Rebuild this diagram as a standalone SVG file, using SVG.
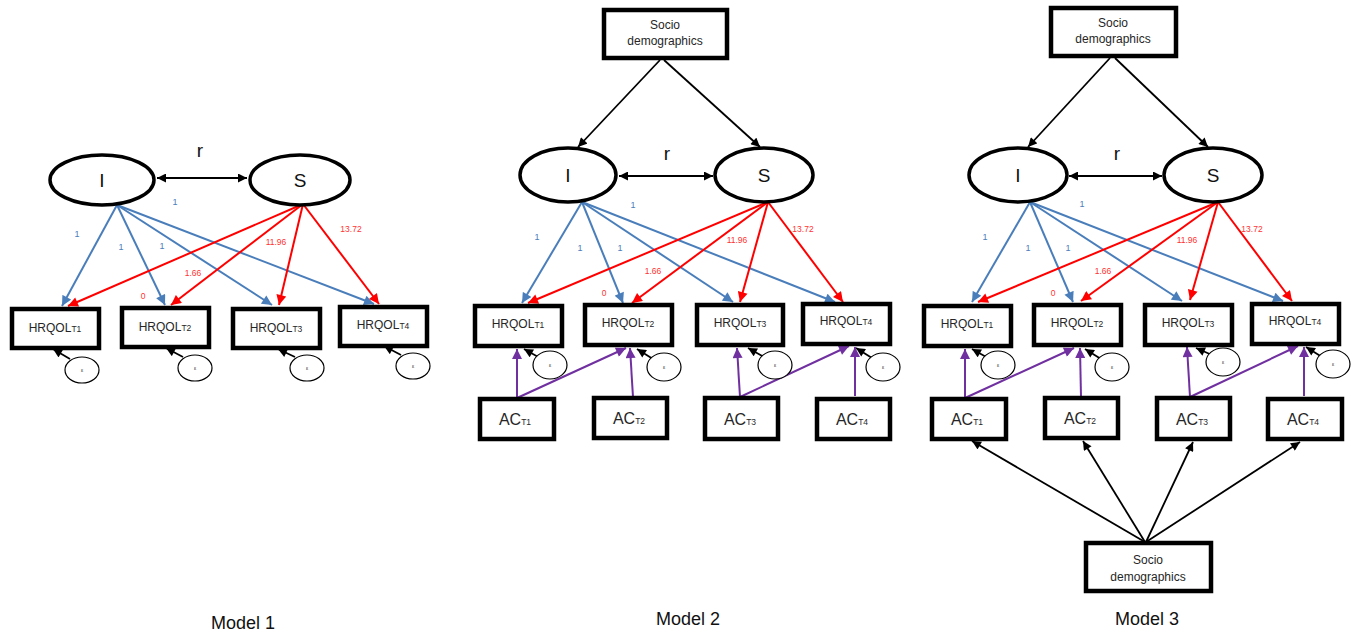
<svg xmlns="http://www.w3.org/2000/svg" width="1359" height="635" viewBox="0 0 1359 635">
<style>
.bg{fill:#fff}
.box{fill:#fff;stroke:#000;stroke-width:4.5}
.lat{fill:#fff;stroke:#000;stroke-width:3.5}
.eps{fill:#fff;stroke:#000;stroke-width:1.2}
.t{font-family:"Liberation Sans",Arial,sans-serif;fill:#262626;text-anchor:middle}
.hq{font-size:12px}
.sub{font-size:8.5px}
.ac{font-size:16px}
.big{font-size:19px;fill:#111}
.soc{font-size:12px}
.model{font-size:18px;fill:#111}
.et{font-size:5px;fill:#333}
.lb{font-family:"Liberation Sans",Arial,sans-serif;font-size:9px;fill:#4a7ebb;text-anchor:middle}
.lr{font-family:"Liberation Sans",Arial,sans-serif;font-size:8.5px;fill:#ff3333;text-anchor:middle}
.k{stroke:#000;stroke-width:1.8;fill:none;marker-end:url(#mk)}
.kk{stroke:#000;stroke-width:1.8;fill:none;marker-end:url(#mk);marker-start:url(#mk)}
.b{stroke:#4a7ebb;stroke-width:2;fill:none;marker-end:url(#mb)}
.r{stroke:#ff0000;stroke-width:2;fill:none;marker-end:url(#mr)}
.p{stroke:#7030a0;stroke-width:2;fill:none;marker-end:url(#mp)}
.pl{stroke:#7030a0;stroke-width:2;fill:none}
</style>
<defs>
<marker id="mk" viewBox="0 0 10 10" refX="10" refY="5" markerWidth="10" markerHeight="9" markerUnits="userSpaceOnUse" orient="auto-start-reverse"><path d="M0,0 L10,5 L0,10 z" fill="#000"/></marker>
<marker id="mb" viewBox="0 0 10 10" refX="10" refY="5" markerWidth="11" markerHeight="10" markerUnits="userSpaceOnUse" orient="auto"><path d="M0,0 L10,5 L0,10 z" fill="#4a7ebb"/></marker>
<marker id="mr" viewBox="0 0 10 10" refX="10" refY="5" markerWidth="11" markerHeight="10" markerUnits="userSpaceOnUse" orient="auto"><path d="M0,0 L10,5 L0,10 z" fill="#ff0000"/></marker>
<marker id="mp" viewBox="0 0 10 10" refX="10" refY="5" markerWidth="11" markerHeight="10" markerUnits="userSpaceOnUse" orient="auto"><path d="M0,0 L10,5 L0,10 z" fill="#7030a0"/></marker>
</defs>
<rect class="bg" x="0" y="0" width="1359" height="635"/>

<!-- ============ MODEL 1 ============ -->
<g id="m1-connectors">
<line class="kk" x1="157" y1="178" x2="247" y2="178"/>
<line class="b" x1="117" y1="205" x2="62" y2="306"/>
<line class="b" x1="117" y1="205" x2="165" y2="305"/>
<line class="b" x1="117" y1="205" x2="272" y2="305"/>
<line class="b" x1="117" y1="205" x2="374" y2="304"/>
<line class="r" x1="303" y1="204" x2="68" y2="306"/>
<line class="r" x1="303" y1="204" x2="171" y2="305"/>
<line class="r" x1="303" y1="204" x2="279" y2="305"/>
<line class="r" x1="303" y1="204" x2="379" y2="304"/>
<line class="k" x1="70" y1="359" x2="53" y2="349"/>
<line class="k" x1="183" y1="357" x2="166" y2="348"/>
<line class="k" x1="295" y1="357" x2="278" y2="349"/>
<line class="k" x1="401" y1="355" x2="384" y2="346"/>
</g>
<g id="m1-labels">
<text class="t big" x="200" y="157">r</text>
<text class="lb" x="77" y="237">1</text>
<text class="lb" x="121" y="250">1</text>
<text class="lb" x="162" y="249">1</text>
<text class="lb" x="175" y="205">1</text>
<text class="lr" x="193" y="276">1.66</text>
<text class="lr" x="143" y="299">0</text>
<text class="lr" x="276" y="245">11.96</text>
<text class="lr" x="351" y="232">13.72</text>
</g>
<g id="m1-I"><ellipse class="lat" cx="102" cy="180" rx="52" ry="25"/><text class="t big" x="102" y="187">I</text></g>
<g id="m1-S"><ellipse class="lat" cx="300" cy="180" rx="50" ry="25"/><text class="t big" x="300" y="187">S</text></g>
<g id="m1-h1"><rect class="box" x="12" y="309" width="87" height="39"/><text class="t hq" x="55" y="332">HRQOL<tspan class="sub">T1</tspan></text></g>
<g id="m1-h2"><rect class="box" x="122" y="308" width="87" height="39"/><text class="t hq" x="165" y="331">HRQOL<tspan class="sub">T2</tspan></text></g>
<g id="m1-h3"><rect class="box" x="233" y="309" width="87" height="39"/><text class="t hq" x="276" y="332">HRQOL<tspan class="sub">T3</tspan></text></g>
<g id="m1-h4"><rect class="box" x="340" y="307" width="87" height="39"/><text class="t hq" x="383" y="329">HRQOL<tspan class="sub">T4</tspan></text></g>
<g id="m1-e1"><ellipse class="eps" cx="82" cy="370" rx="17" ry="13"/><text class="t et" x="82" y="372">ε</text></g>
<g id="m1-e2"><ellipse class="eps" cx="195" cy="368" rx="17" ry="13"/><text class="t et" x="195" y="370">ε</text></g>
<g id="m1-e3"><ellipse class="eps" cx="307" cy="368" rx="17" ry="13"/><text class="t et" x="307" y="370">ε</text></g>
<g id="m1-e4"><ellipse class="eps" cx="413" cy="366" rx="17" ry="13"/><text class="t et" x="413" y="368">ε</text></g>
<text class="t model" x="243" y="629">Model 1</text>

<!-- ============ MODEL 2 ============ -->
<g id="m2-connectors">
<line class="k" x1="660" y1="60" x2="578" y2="147"/>
<line class="k" x1="664" y1="60" x2="760" y2="147"/>
<line class="kk" x1="619" y1="176" x2="713" y2="176"/>
<line class="b" x1="582" y1="202" x2="522" y2="303"/>
<line class="b" x1="582" y1="202" x2="623" y2="303"/>
<line class="b" x1="582" y1="202" x2="733" y2="302"/>
<line class="b" x1="582" y1="202" x2="835" y2="302"/>
<line class="r" x1="768" y1="202" x2="528" y2="303"/>
<line class="r" x1="768" y1="202" x2="632" y2="303"/>
<line class="r" x1="768" y1="202" x2="740" y2="302"/>
<line class="r" x1="768" y1="202" x2="843" y2="302"/>
<line class="k" x1="540" y1="358" x2="524" y2="349"/>
<line class="k" x1="653" y1="359" x2="637" y2="349"/>
<line class="k" x1="764" y1="357" x2="748" y2="348"/>
<line class="k" x1="872" y1="358" x2="856" y2="348"/>
<line class="p" x1="517" y1="398" x2="517" y2="349"/>
<line class="p" x1="517" y1="398" x2="626" y2="348"/>
<line class="p" x1="633" y1="397" x2="630" y2="348"/>
<line class="p" x1="740" y1="397" x2="737" y2="348"/>
<line class="p" x1="740" y1="397" x2="849" y2="346"/>
<line class="p" x1="855" y1="396" x2="855" y2="347"/>
</g>
<g id="m2-labels">
<text class="t big" x="667" y="160">r</text>
<text class="lb" x="537" y="240">1</text>
<text class="lb" x="580" y="251">1</text>
<text class="lb" x="620" y="251">1</text>
<text class="lb" x="633" y="208">1</text>
<text class="lr" x="653" y="274">1.66</text>
<text class="lr" x="604" y="296">0</text>
<text class="lr" x="737" y="243">11.96</text>
<text class="lr" x="803" y="232">13.72</text>
</g>
<g id="m2-socio"><rect class="box" x="604" y="10" width="123" height="48"/><text class="t soc" x="665" y="29">Socio</text><text class="t soc" x="665" y="45">demographics</text></g>
<g id="m2-I"><ellipse class="lat" cx="568" cy="175" rx="48" ry="27"/><text class="t big" x="568" y="182">I</text></g>
<g id="m2-S"><ellipse class="lat" cx="764" cy="175" rx="49" ry="27"/><text class="t big" x="764" y="182">S</text></g>
<g id="m2-h1"><rect class="box" x="475" y="306" width="87" height="40"/><text class="t hq" x="518" y="328">HRQOL<tspan class="sub">T1</tspan></text></g>
<g id="m2-h2"><rect class="box" x="585" y="305" width="87" height="40"/><text class="t hq" x="628" y="327">HRQOL<tspan class="sub">T2</tspan></text></g>
<g id="m2-h3"><rect class="box" x="697" y="305" width="86" height="40"/><text class="t hq" x="740" y="327">HRQOL<tspan class="sub">T3</tspan></text></g>
<g id="m2-h4"><rect class="box" x="803" y="304" width="87" height="40"/><text class="t hq" x="846" y="325">HRQOL<tspan class="sub">T4</tspan></text></g>
<g id="m2-e1"><ellipse class="eps" cx="550" cy="365" rx="17" ry="14"/><text class="t et" x="550" y="367">ε</text></g>
<g id="m2-e2"><ellipse class="eps" cx="664" cy="367" rx="17" ry="14"/><text class="t et" x="664" y="369">ε</text></g>
<g id="m2-e3"><ellipse class="eps" cx="775" cy="365" rx="17" ry="14"/><text class="t et" x="775" y="367">ε</text></g>
<g id="m2-e4"><ellipse class="eps" cx="883" cy="367" rx="17" ry="14"/><text class="t et" x="883" y="369">ε</text></g>
<g id="m2-a1"><rect class="box" x="480" y="399" width="74" height="40"/><text class="t ac" x="515" y="425">AC<tspan class="sub">T1</tspan></text></g>
<g id="m2-a2"><rect class="box" x="594" y="398" width="73" height="40"/><text class="t ac" x="629" y="424">AC<tspan class="sub">T2</tspan></text></g>
<g id="m2-a3"><rect class="box" x="705" y="398" width="73" height="41"/><text class="t ac" x="740" y="425">AC<tspan class="sub">T3</tspan></text></g>
<g id="m2-a4"><rect class="box" x="817" y="399" width="73" height="40"/><text class="t ac" x="852" y="425">AC<tspan class="sub">T4</tspan></text></g>
<text class="t model" x="688" y="625">Model 2</text>

<!-- ============ MODEL 3 ============ -->
<g id="m3-connectors">
<line class="k" x1="1110" y1="58" x2="1028" y2="147"/>
<line class="k" x1="1115" y1="58" x2="1208" y2="147"/>
<line class="kk" x1="1069" y1="176" x2="1162" y2="176"/>
<line class="b" x1="1030" y1="202" x2="972" y2="302"/>
<line class="b" x1="1030" y1="202" x2="1073" y2="302"/>
<line class="b" x1="1030" y1="202" x2="1182" y2="301"/>
<line class="b" x1="1030" y1="202" x2="1283" y2="301"/>
<line class="r" x1="1218" y1="202" x2="978" y2="302"/>
<line class="r" x1="1218" y1="202" x2="1081" y2="301"/>
<line class="r" x1="1218" y1="202" x2="1190" y2="300"/>
<line class="r" x1="1218" y1="202" x2="1292" y2="301"/>
<line class="k" x1="988" y1="358" x2="972" y2="349"/>
<line class="k" x1="1101" y1="359" x2="1085" y2="349"/>
<line class="k" x1="1212" y1="355" x2="1196" y2="348"/>
<line class="k" x1="1322" y1="357" x2="1306" y2="347"/>
<line class="p" x1="965" y1="398" x2="965" y2="349"/>
<line class="p" x1="965" y1="398" x2="1074" y2="348"/>
<line class="p" x1="1081" y1="397" x2="1080" y2="348"/>
<line class="p" x1="1190" y1="397" x2="1187" y2="347"/>
<line class="p" x1="1190" y1="397" x2="1298" y2="346"/>
<line class="p" x1="1304" y1="396" x2="1304" y2="347"/>
<line class="k" x1="1145" y1="542" x2="972" y2="441"/>
<line class="k" x1="1145" y1="542" x2="1083" y2="441"/>
<line class="k" x1="1146" y1="542" x2="1193" y2="442"/>
<line class="k" x1="1146" y1="542" x2="1300" y2="442"/>
</g>
<g id="m3-labels">
<text class="t big" x="1117" y="160">r</text>
<text class="lb" x="985" y="240">1</text>
<text class="lb" x="1028" y="251">1</text>
<text class="lb" x="1068" y="251">1</text>
<text class="lb" x="1082" y="207">1</text>
<text class="lr" x="1103" y="274">1.66</text>
<text class="lr" x="1053" y="296">0</text>
<text class="lr" x="1187" y="243">11.96</text>
<text class="lr" x="1252" y="232">13.72</text>
</g>
<g id="m3-socio-top"><rect class="box" x="1051" y="8" width="125" height="48"/><text class="t soc" x="1113" y="27">Socio</text><text class="t soc" x="1113" y="43">demographics</text></g>
<g id="m3-I"><ellipse class="lat" cx="1018" cy="175" rx="49" ry="27"/><text class="t big" x="1018" y="182">I</text></g>
<g id="m3-S"><ellipse class="lat" cx="1213" cy="175" rx="49" ry="27"/><text class="t big" x="1213" y="182">S</text></g>
<g id="m3-h1"><rect class="box" x="924" y="306" width="87" height="40"/><text class="t hq" x="967" y="328">HRQOL<tspan class="sub">T1</tspan></text></g>
<g id="m3-h2"><rect class="box" x="1034" y="305" width="87" height="40"/><text class="t hq" x="1077" y="327">HRQOL<tspan class="sub">T2</tspan></text></g>
<g id="m3-h3"><rect class="box" x="1145" y="305" width="87" height="40"/><text class="t hq" x="1188" y="327">HRQOL<tspan class="sub">T3</tspan></text></g>
<g id="m3-h4"><rect class="box" x="1252" y="304" width="87" height="40"/><text class="t hq" x="1295" y="325">HRQOL<tspan class="sub">T4</tspan></text></g>
<g id="m3-e1"><ellipse class="eps" cx="998" cy="365" rx="17" ry="14"/><text class="t et" x="998" y="367">ε</text></g>
<g id="m3-e2"><ellipse class="eps" cx="1112" cy="367" rx="17" ry="14"/><text class="t et" x="1112" y="369">ε</text></g>
<g id="m3-e3"><ellipse class="eps" cx="1223" cy="362" rx="17" ry="14"/><text class="t et" x="1223" y="364">ε</text></g>
<g id="m3-e4"><ellipse class="eps" cx="1333" cy="364" rx="17" ry="14"/><text class="t et" x="1333" y="366">ε</text></g>
<g id="m3-a1"><rect class="box" x="932" y="399" width="74" height="40"/><text class="t ac" x="967" y="425">AC<tspan class="sub">T1</tspan></text></g>
<g id="m3-a2"><rect class="box" x="1045" y="398" width="73" height="40"/><text class="t ac" x="1080" y="424">AC<tspan class="sub">T2</tspan></text></g>
<g id="m3-a3"><rect class="box" x="1157" y="398" width="73" height="41"/><text class="t ac" x="1192" y="425">AC<tspan class="sub">T3</tspan></text></g>
<g id="m3-a4"><rect class="box" x="1268" y="399" width="74" height="40"/><text class="t ac" x="1303" y="425">AC<tspan class="sub">T4</tspan></text></g>
<g id="m3-socio-bottom"><rect class="box" x="1086" y="543" width="125" height="48"/><text class="t soc" x="1148" y="564">Socio</text><text class="t soc" x="1148" y="581">demographics</text></g>
<text class="t model" x="1147" y="625">Model 3</text>
</svg>
